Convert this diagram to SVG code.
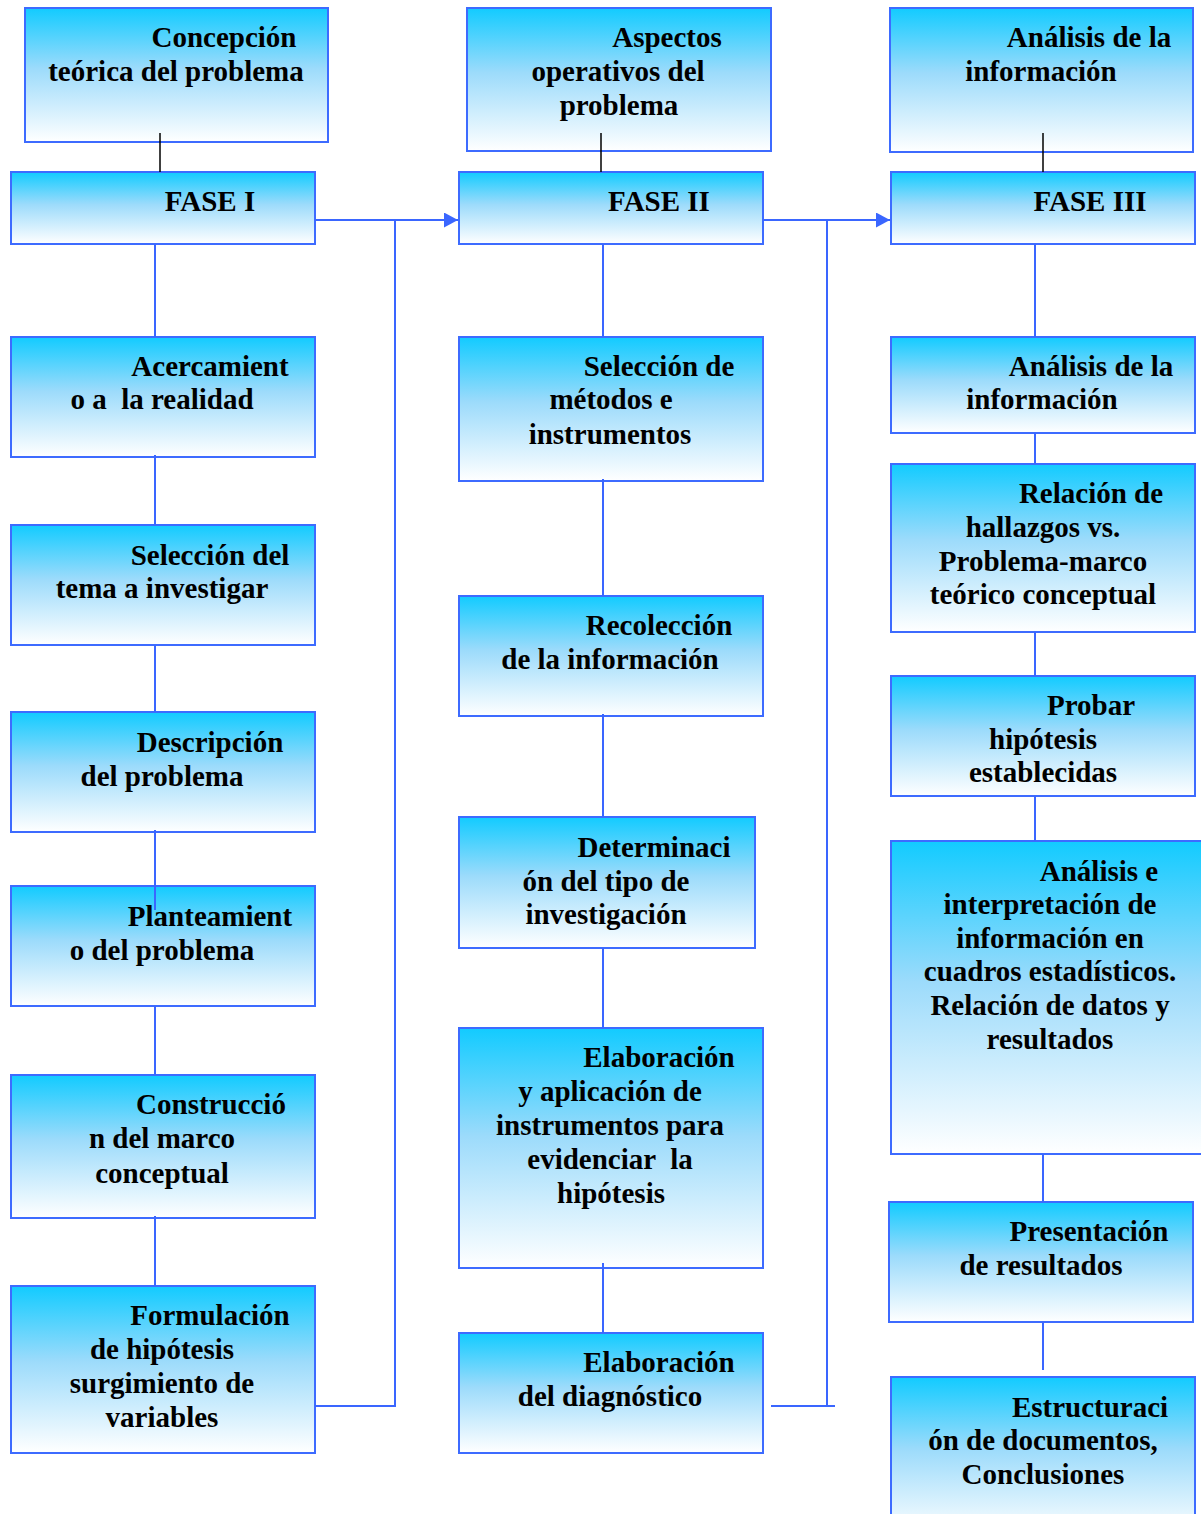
<svg xmlns="http://www.w3.org/2000/svg" width="1201" height="1514" viewBox="0 0 1201 1514">
<defs>
<linearGradient id="g" x1="0" y1="0" x2="0" y2="1">
<stop offset="0" stop-color="#12cbff"/>
<stop offset="0.45" stop-color="#9cdbfb"/>
<stop offset="1" stop-color="#ffffff"/>
</linearGradient>
<marker id="arr" viewBox="0 0 14 15" refX="14" refY="7.5" markerWidth="14" markerHeight="15" markerUnits="userSpaceOnUse" orient="auto">
<path d="M0,0 L14,7.5 L0,15 z" fill="#3a66ff"/>
</marker>
<style>
.b{fill:url(#g);stroke:#3d6bff;stroke-width:2}
.t{font-family:"Liberation Serif","Times New Roman",serif;font-weight:bold;font-size:29px;fill:#000;text-anchor:middle;white-space:pre}
.c{stroke:#3a66ff;stroke-width:2;fill:none}
.k{stroke:#000;stroke-width:1.5;fill:none}
</style>
</defs>
<rect width="1201" height="1514" fill="#fff"/>
<g id="n-concepcion"><rect class="b" x="25" y="8" width="303" height="134"/>
<text class="t"><tspan x="224" y="47">Concepción</tspan><tspan x="176" y="81">teórica del problema</tspan></text></g>
<g id="n-fase1"><rect class="b" x="11" y="172" width="304" height="72"/>
<text class="t"><tspan x="210" y="211">FASE I</tspan></text></g>
<g id="n-acercamiento"><rect class="b" x="11" y="337" width="304" height="120"/>
<text class="t"><tspan x="210" y="376">Acercamient</tspan><tspan x="162" y="409">o a  la realidad</tspan></text></g>
<g id="n-seleccion-tema"><rect class="b" x="11" y="525" width="304" height="120"/>
<text class="t"><tspan x="210" y="565">Selección del</tspan><tspan x="162" y="598">tema a investigar</tspan></text></g>
<g id="n-descripcion"><rect class="b" x="11" y="712" width="304" height="120"/>
<text class="t"><tspan x="210" y="752">Descripción</tspan><tspan x="162" y="786">del problema</tspan></text></g>
<g id="n-planteamiento"><rect class="b" x="11" y="886" width="304" height="120"/>
<text class="t"><tspan x="210" y="926">Planteamient</tspan><tspan x="162" y="960">o del problema</tspan></text></g>
<g id="n-construccion"><rect class="b" x="11" y="1075" width="304" height="143"/>
<text class="t"><tspan x="211" y="1114">Construcció</tspan><tspan x="162" y="1148">n del marco</tspan><tspan x="162" y="1183">conceptual</tspan></text></g>
<g id="n-formulacion"><rect class="b" x="11" y="1286" width="304" height="167"/>
<text class="t"><tspan x="210" y="1325">Formulación</tspan><tspan x="162" y="1359">de hipótesis</tspan><tspan x="162" y="1393">surgimiento de</tspan><tspan x="162" y="1427">variables</tspan></text></g>
<g id="n-aspectos"><rect class="b" x="467" y="8" width="304" height="143"/>
<text class="t"><tspan x="667" y="47">Aspectos</tspan><tspan x="618" y="81">operativos del</tspan><tspan x="619" y="115">problema</tspan></text></g>
<g id="n-fase2"><rect class="b" x="459" y="172" width="304" height="72"/>
<text class="t"><tspan x="659" y="211">FASE II</tspan></text></g>
<g id="n-seleccion-metodos"><rect class="b" x="459" y="337" width="304" height="144"/>
<text class="t"><tspan x="659" y="376">Selección de</tspan><tspan x="611" y="409">métodos e</tspan><tspan x="610" y="444">instrumentos</tspan></text></g>
<g id="n-recoleccion"><rect class="b" x="459" y="596" width="304" height="120"/>
<text class="t"><tspan x="659" y="635">Recolección</tspan><tspan x="610" y="669">de la información</tspan></text></g>
<g id="n-determinacion"><rect class="b" x="459" y="817" width="296" height="131"/>
<text class="t"><tspan x="654" y="857">Determinaci</tspan><tspan x="606" y="891">ón del tipo de</tspan><tspan x="606" y="924">investigación</tspan></text></g>
<g id="n-elaboracion-instr"><rect class="b" x="459" y="1028" width="304" height="240"/>
<text class="t"><tspan x="659" y="1067">Elaboración</tspan><tspan x="610" y="1101">y aplicación de</tspan><tspan x="610" y="1135">instrumentos para</tspan><tspan x="610" y="1169">evidenciar  la</tspan><tspan x="611" y="1203">hipótesis</tspan></text></g>
<g id="n-diagnostico"><rect class="b" x="459" y="1333" width="304" height="120"/>
<text class="t"><tspan x="659" y="1372">Elaboración</tspan><tspan x="610" y="1406">del diagnóstico</tspan></text></g>
<g id="n-analisis-top"><rect class="b" x="890" y="8" width="303" height="144"/>
<text class="t"><tspan x="1089" y="47">Análisis de la</tspan><tspan x="1041" y="81">información</tspan></text></g>
<g id="n-fase3"><rect class="b" x="891" y="172" width="304" height="72"/>
<text class="t"><tspan x="1090" y="211">FASE III</tspan></text></g>
<g id="n-analisis"><rect class="b" x="891" y="337" width="304" height="96"/>
<text class="t"><tspan x="1091" y="376">Análisis de la</tspan><tspan x="1042" y="409">información</tspan></text></g>
<g id="n-relacion"><rect class="b" x="891" y="464" width="304" height="168"/>
<text class="t"><tspan x="1091" y="503">Relación de</tspan><tspan x="1043" y="537">hallazgos vs.</tspan><tspan x="1043" y="571">Problema-marco</tspan><tspan x="1043" y="604">teórico conceptual</tspan></text></g>
<g id="n-probar"><rect class="b" x="891" y="676" width="304" height="120"/>
<text class="t"><tspan x="1091" y="715">Probar</tspan><tspan x="1043" y="749">hipótesis</tspan><tspan x="1043" y="782">establecidas</tspan></text></g>
<g id="n-interpretacion"><rect class="b" x="891" y="841" width="324" height="313"/>
<text class="t"><tspan x="1099" y="881">Análisis e</tspan><tspan x="1050" y="914">interpretación de</tspan><tspan x="1050" y="948">información en</tspan><tspan x="1050" y="981">cuadros estadísticos.</tspan><tspan x="1050" y="1015">Relación de datos y</tspan><tspan x="1050" y="1049">resultados</tspan></text></g>
<g id="n-presentacion"><rect class="b" x="889" y="1202" width="304" height="120"/>
<text class="t"><tspan x="1089" y="1241">Presentación</tspan><tspan x="1041" y="1275">de resultados</tspan></text></g>
<g id="n-estructuracion"><rect class="b" x="891" y="1377" width="304" height="160"/>
<text class="t"><tspan x="1090" y="1417">Estructuraci</tspan><tspan x="1043" y="1450">ón de documentos,</tspan><tspan x="1043" y="1484">Conclusiones</tspan></text></g>
<g id="connectors">
<line class="k" x1="160" y1="133" x2="160" y2="172"/>
<line class="k" x1="601" y1="133" x2="601" y2="172"/>
<line class="k" x1="1043" y1="133" x2="1043" y2="172"/>
<line class="c" x1="315" y1="220" x2="458" y2="220" marker-end="url(#arr)"/>
<polyline class="c" points="395,220 395,1406 315,1406"/>
<line class="c" x1="763" y1="220" x2="890" y2="220" marker-end="url(#arr)"/>
<polyline class="c" points="827,220 827,1406"/>
<line class="c" x1="771" y1="1406" x2="835" y2="1406"/>
<line class="c" x1="155" y1="244" x2="155" y2="337"/>
<line class="c" x1="155" y1="455" x2="155" y2="525"/>
<line class="c" x1="155" y1="645" x2="155" y2="712"/>
<line class="c" x1="155" y1="830" x2="155" y2="910"/>
<line class="c" x1="155" y1="1006" x2="155" y2="1075"/>
<line class="c" x1="155" y1="1216" x2="155" y2="1286"/>
<line class="c" x1="603" y1="244" x2="603" y2="337"/>
<line class="c" x1="603" y1="479" x2="603" y2="596"/>
<line class="c" x1="603" y1="714" x2="603" y2="817"/>
<line class="c" x1="603" y1="948" x2="603" y2="1028"/>
<line class="c" x1="603" y1="1263" x2="603" y2="1333"/>
<line class="c" x1="1035" y1="244" x2="1035" y2="337"/>
<line class="c" x1="1035" y1="433" x2="1035" y2="464"/>
<line class="c" x1="1035" y1="632" x2="1035" y2="676"/>
<line class="c" x1="1035" y1="796" x2="1035" y2="841"/>
<line class="c" x1="1043" y1="1154" x2="1043" y2="1202"/>
<line class="c" x1="1043" y1="1322" x2="1043" y2="1370"/>
</g>
</svg>
